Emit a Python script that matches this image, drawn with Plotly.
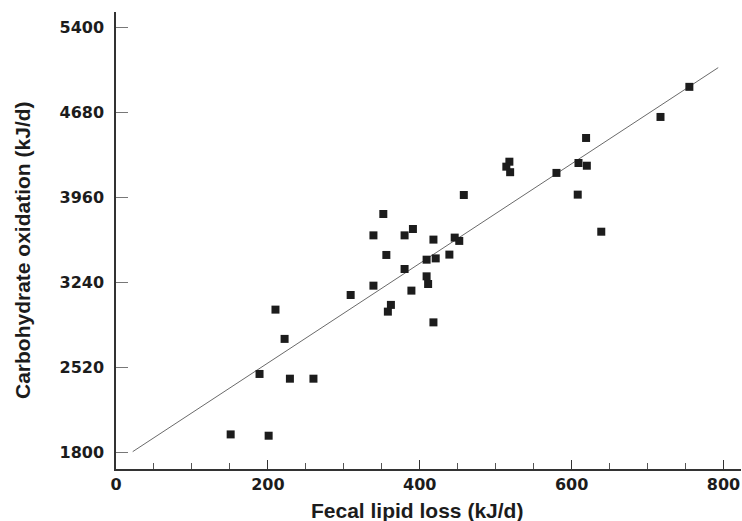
import plotly.graph_objects as go

# fecal lipid loss (kJ/d) vs carbohydrate oxidation (kJ/d)
fecal_lipid = [151, 201, 189, 229, 260, 210, 222, 309, 339, 339,
               352, 356, 362, 358, 380, 380, 391, 389, 409, 409,
               411, 418, 418, 421, 439, 446, 452, 458, 518, 514,
               519, 580, 609, 620, 619, 608, 639, 717, 755]
carb_oxidation = [1952, 1941, 2464, 2424, 2424, 3009, 2761, 3133, 3212, 3638,
                  3819, 3472, 3049, 2992, 3638, 3353, 3692, 3170, 3432, 3291,
                  3226, 3602, 2901, 3443, 3475, 3619, 3591, 3980, 4262, 4220,
                  4173, 4167, 4251, 4228, 4463, 3983, 3669, 4641, 4896]

# regression line end points
fit_x = [22, 793]
fit_y = [1806, 5059]

x_ticks = [0, 200, 400, 600, 800]
y_ticks = [1800, 2520, 3240, 3960, 4680, 5400]

TITLE_FONT = "Liberation Sans, Arial, sans-serif"
TICK_FONT = "DejaVu Sans, sans-serif"
INK = "#1c1c1c"

fig = go.Figure()
fig.add_trace(go.Scatter(x=fit_x, y=fit_y, mode="lines",
                         line=dict(color="#6a6a6a", width=1),
                         hoverinfo="skip"))
fig.add_trace(go.Scatter(x=fecal_lipid, y=carb_oxidation, mode="markers",
                         marker=dict(symbol="square", size=8, color=INK,
                                     line=dict(width=0))))

fig.update_layout(
    width=742, height=521,
    margin=dict(l=116, r=1, t=12, b=52),
    paper_bgcolor="white", plot_bgcolor="white",
    showlegend=False,
    font=dict(family=TITLE_FONT, color=INK),
)
fig.update_xaxes(
    range=[0, 823],
    showgrid=False, zeroline=False,
    showline=True, linecolor="#333333", linewidth=1.5,
    ticks="inside", ticklen=9, tickwidth=1, tickcolor="#333333",
    tickvals=x_ticks,
    minor=dict(ticks="inside", ticklen=6, tickwidth=1, tickcolor="#555555",
               tick0=0, dtick=50),
    tickfont=dict(size=16, family=TICK_FONT, color=INK, weight="bold"),
)
fig.update_yaxes(
    range=[1659, 5530],
    showgrid=False, zeroline=False,
    showline=True, linecolor="#333333", linewidth=1.5,
    ticks="inside", ticklen=12, tickwidth=1, tickcolor="#777777",
    tickvals=y_ticks,
    ticklabelstandoff=7,
    tickfont=dict(size=16, family=TICK_FONT, color=INK, weight="bold"),
)

fig.add_annotation(text="Fecal lipid loss (kJ/d)", xref="paper", yref="paper",
                   x=(417 - 116) / 625, y=-(510 - 469) / 457,
                   showarrow=False, xanchor="center", yanchor="middle",
                   font=dict(size=21, family=TITLE_FONT, color=INK, weight="bold"))
fig.add_annotation(text="Carbohydrate oxidation (kJ/d)", xref="paper", yref="paper",
                   x=-(116 - 22) / 625, y=(469 - 250) / 457, textangle=-90,
                   showarrow=False, xanchor="center", yanchor="middle",
                   font=dict(size=21, family=TITLE_FONT, color=INK, weight="bold"))

fig.write_html("out.html", config={"displayModeBar": False},
               post_script="document.body.style.margin = '0';")
